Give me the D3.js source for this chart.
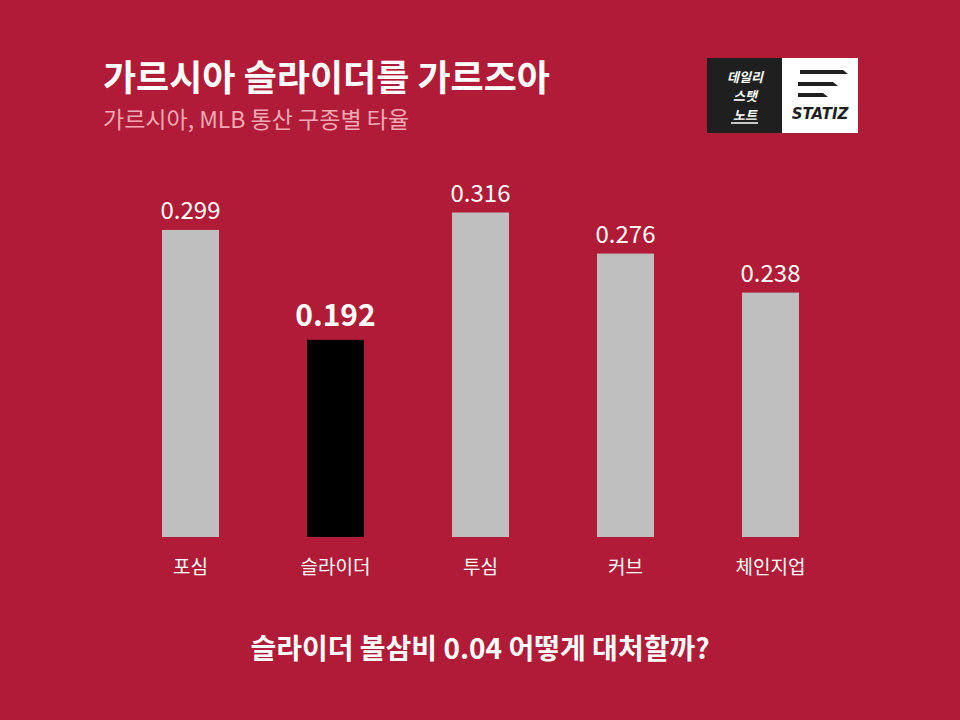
<!DOCTYPE html><html><head><meta charset="utf-8">
<script src="https://cdn.jsdelivr.net/npm/d3@7"></script>
<style>body{margin:0;background:#b01c38}</style></head><body>
<script>
const categories=["포심","슬라이더","투심","커브","체인지업"];
const values=[0.299,0.192,0.316,0.276,0.238];
const highlight="슬라이더";
const F="'Noto Sans CJK KR','Noto Sans',sans-serif";
const svg=d3.select("body").append("svg").attr("width",960).attr("height",720);
svg.append("rect").attr("width",960).attr("height",720).attr("fill","#b01c38");
svg.append("text").attr("x",103).attr("y",91).attr("fill","#fff").attr("font-family",F).attr("font-weight",700).attr("font-size",36).text("가르시아 슬라이더를 가르즈아");
svg.append("text").attr("x",103).attr("y",128).attr("fill","#f0a9b4").attr("font-family",F).attr("font-size",23).text("가르시아, MLB 통산 구종별 타율");
svg.append("rect").attr("x",707).attr("y",58).attr("width",75).attr("height",75).attr("fill","#1f1f1f");
svg.append("rect").attr("x",782).attr("y",58).attr("width",76).attr("height",75).attr("fill","#fff");
[["데일리",82],["스탯",101],["노트",120]].forEach(([t,y])=>svg.append("text").attr("x",745).attr("y",y).attr("text-anchor","middle").attr("fill","#fff").attr("font-family",F).attr("font-weight",700).attr("font-size",13).attr("font-style","italic").text(t));
svg.append("line").attr("x1",731).attr("x2",758).attr("y1",123).attr("y2",123).attr("stroke","#fff").attr("stroke-width",1.5);
[[800,848,74],[798,838,86],[798,828,97]].forEach(([a,b,y])=>svg.append("path").attr("d",`M${a},${y-4}L${b-5},${y-4}L${b},${y}L${a},${y}Z`).attr("fill","#1f1f1f"));
svg.append("text").attr("x",820).attr("y",119).attr("text-anchor","middle").attr("fill","#1f1f1f").attr("font-family","'DejaVu Sans',sans-serif").attr("font-weight",700).attr("font-style","italic").attr("font-size",15).text("STATIZ");
const x=d3.scaleBand().domain(categories).range([118,843]).paddingInner(0.607).paddingOuter(0.3035);
const y=d3.scaleLinear().domain([0,0.316]).range([537,212.5]);
const g=svg.append("g");
g.selectAll("rect.bar").data(values).join("rect").attr("class","bar")
 .attr("x",(d,i)=>x(categories[i])).attr("width",x.bandwidth())
 .attr("y",d=>y(d)).attr("height",d=>537-y(d))
 .attr("fill",(d,i)=>categories[i]===highlight?"#000":"#bfbfbf");
g.selectAll("text.v").data(values).join("text").attr("class","v")
 .attr("x",(d,i)=>x(categories[i])+x.bandwidth()/2).attr("y",(d,i)=>y(d)-(categories[i]===highlight?14:11))
 .attr("text-anchor","middle").attr("fill","#fff").attr("font-family",F)
 .attr("font-size",(d,i)=>categories[i]===highlight?30:24).attr("font-weight",(d,i)=>categories[i]===highlight?600:400)
 .text(d=>d.toFixed(3));
const ax=svg.append("g").attr("transform","translate(0,537)").call(d3.axisBottom(x).tickSize(0).tickPadding(20));
ax.select(".domain").remove();
ax.selectAll("text").attr("fill","#fff").attr("font-family",F).attr("font-size",19).attr("dy","0.9em");
svg.append("text").attr("x",480).attr("y",659).attr("text-anchor","middle").attr("fill","#fff").attr("font-family",F).attr("font-weight",700).attr("font-size",28).text("슬라이더 볼삼비 0.04 어떻게 대처할까?");
</script></body></html>
